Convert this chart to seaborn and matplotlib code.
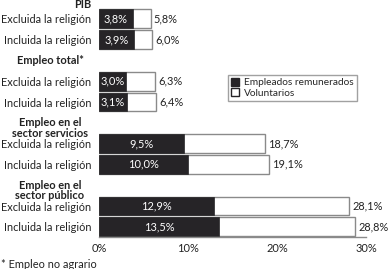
import matplotlib
matplotlib.use("Agg")
import matplotlib.pyplot as plt
import matplotlib.transforms as mtransforms
from matplotlib.patches import Patch
import pandas as pd
import seaborn as sns

# Data
headers = ["PIB", "Empleo total*", "Empleo en el\nsector servicios", "Empleo en el\nsector público"]
row_labels = ["Excluida la religión", "Incluida la religión"]
paid = [3.8, 3.9, 3.0, 3.1, 9.5, 10.0, 12.9, 13.5]
total = [5.8, 6.0, 6.3, 6.4, 18.7, 19.1, 28.1, 28.8]
paid_labels = ["3,8%", "3,9%", "3,0%", "3,1%", "9,5%", "10,0%", "12,9%", "13,5%"]
total_labels = ["5,8%", "6,0%", "6,3%", "6,4%", "18,7%", "19,1%", "28,1%", "28,8%"]
x_ticks = [0, 10, 20, 30]
x_tick_labels = ["0%", "10%", "20%", "30%"]
legend_labels = ["Empleados remunerados", "Voluntarios"]
footnote = "* Empleo no agrario"

dark = "#262427"
edge = "#8a8a8a"
fs = 7.9

sns.set_theme(style="white")
plt.rcParams["font.family"] = ["Lato", "DejaVu Sans"]
plt.rcParams["font.size"] = fs
plt.rcParams["xtick.labelsize"] = fs
plt.rcParams["ytick.labelsize"] = fs
plt.rcParams["legend.fontsize"] = 7.3

# each group: one header slot followed by two bar slots
slots = []
header_slots = []
for g in range(len(headers)):
    header_slots.append(3 * g)
    slots += [3 * g + 1, 3 * g + 2]

df = pd.DataFrame({
    "slot": slots,
    "label": row_labels * len(headers),
    "paid": paid,
    "total": total,
})

fig = plt.figure(figsize=(3.88, 2.69), dpi=100)
ax = fig.add_axes([99 / 388, 32 / 269, 267 / 388, 237 / 269])

sns.barplot(data=df, x="total", y="slot", orient="h", native_scale=True,
            color="white", edgecolor=edge, linewidth=1.0, width=0.9,
            saturation=1, ax=ax)
sns.barplot(data=df, x="paid", y="slot", orient="h", native_scale=True,
            color=dark, edgecolor=dark, linewidth=0.5, width=0.9,
            saturation=1, ax=ax)

ax.set_xlim(0, 30)
ax.set_ylim(11.49, 0.096)
ax.set_xlabel("")
ax.set_ylabel("")

ax.set_yticks(df["slot"])
ax.set_yticklabels(df["label"], color="#222222")
ax.tick_params(axis="y", length=0, pad=5.5)
ax.set_xticks(x_ticks)
ax.set_xticklabels(x_tick_labels, color="#222222")
ax.tick_params(axis="x", direction="in", length=2.5, width=0.6, color=edge, pad=4)

for side in ["top", "right", "left"]:
    ax.spines[side].set_visible(False)
ax.spines["bottom"].set_color(edge)
ax.spines["bottom"].set_linewidth(1.0)

# value labels
for i, s in enumerate(slots):
    ax.text(paid[i] / 2, s, paid_labels[i], color="white", ha="center", va="center")
    ax.annotate(total_labels[i], (total[i], s), xytext=(2.2, 0), textcoords="offset points",
                ha="left", va="center", color="#222222")

# group headers
trans = mtransforms.blended_transform_factory(fig.transFigure, ax.transData)
for g, h in enumerate(headers):
    if g == 0:
        ax.text(91 / 388, header_slots[g] + 0.3, h, transform=trans, ha="right", va="center",
                fontweight="bold", color="#222222")
    else:
        off = 0.25 if "\n" in h else 0
        ax.text(50 / 388, header_slots[g] + off, h, transform=trans, ha="center",
                va="center", multialignment="center", fontweight="bold",
                color="#222222", linespacing=0.95)

handles = [Patch(facecolor=dark, edgecolor=dark), Patch(facecolor="white", edgecolor=dark)]
leg = ax.legend(handles, legend_labels, loc="upper left",
                bbox_to_anchor=(228 / 388, 1 - 75 / 269), bbox_transform=fig.transFigure,
                frameon=True, fancybox=False, handlelength=0.8, handleheight=0.8,
                handletextpad=0.5, borderpad=0.3, labelspacing=0.1, borderaxespad=0)
leg.get_frame().set_edgecolor(edge)
leg.get_frame().set_linewidth(1.0)

fig.text(1 / 388, 1 - 264 / 269, footnote, ha="left", va="center", color="#222222")

fig.savefig("out.png", dpi=100)
